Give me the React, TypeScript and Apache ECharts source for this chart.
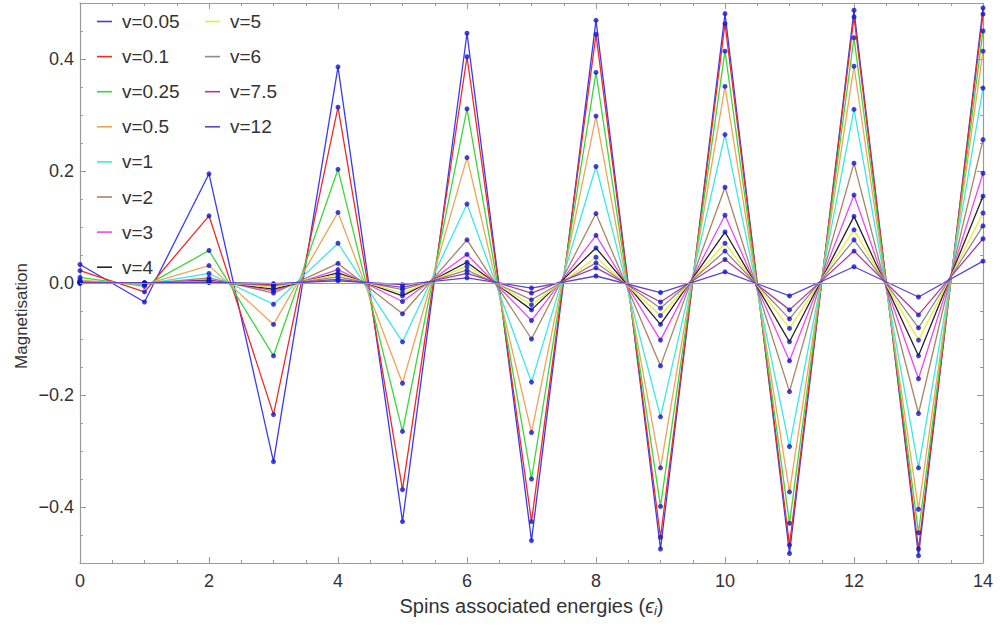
import React, { useEffect, useRef } from "react";
import * as echarts from "echarts";

// Spins associated energies (x values)
const energies = [0, 1, 2, 3, 4, 5, 6, 7, 8, 9, 10, 11, 12, 13, 14];

const seriesNames = ["v=0.05", "v=0.1", "v=0.25", "v=0.5", "v=1", "v=2", "v=3", "v=4", "v=5", "v=6", "v=7.5", "v=12"];
const seriesColors = ["#3a3aee", "#ee2a2a", "#3ad83a", "#f0a455", "#3ae8ea", "#a88462", "#ee48ee", "#222222", "#ecec38", "#8c8c8c", "#b03c98", "#5a46c8"];

const mV005 = [0.033, -0.034, 0.195, -0.319, 0.386, -0.426, 0.446, -0.460, 0.469, -0.475, 0.481, -0.483, 0.487, -0.487, 0.491];
const mV01 = [0.022, -0.016, 0.120, -0.235, 0.314, -0.369, 0.404, -0.426, 0.444, -0.454, 0.463, -0.468, 0.475, -0.475, 0.480];
const mV025 = [0.010, -0.006, 0.058, -0.130, 0.203, -0.265, 0.311, -0.350, 0.376, -0.399, 0.414, -0.429, 0.438, -0.446, 0.450];
const mV05 = [0.005, -0.003, 0.031, -0.074, 0.126, -0.179, 0.224, -0.267, 0.298, -0.330, 0.351, -0.373, 0.387, -0.404, 0.414];
const mV1 = [0.003, -0.002, 0.017, -0.038, 0.071, -0.105, 0.141, -0.177, 0.208, -0.239, 0.265, -0.292, 0.310, -0.330, 0.348];
const mV2 = [0.001, -0.001, 0.009, -0.018, 0.035, -0.055, 0.077, -0.100, 0.124, -0.148, 0.171, -0.194, 0.214, -0.233, 0.256];
const mV3 = [0.001, -0.001, 0.006, -0.014, 0.024, -0.033, 0.051, -0.067, 0.085, -0.102, 0.121, -0.139, 0.157, -0.171, 0.196];
const mV4 = [0.001, 0.0, 0.004, -0.011, 0.018, -0.023, 0.037, -0.048, 0.0625, -0.074, 0.091, -0.105, 0.119, -0.130, 0.155];
const mV5 = [0.0, 0.0, 0.003, -0.008, 0.015, -0.018, 0.030, -0.039, 0.046, -0.058, 0.071, -0.081, 0.095, -0.102, 0.125];
const mV6 = [0.0, 0.0, 0.002, -0.005, 0.011, -0.012, 0.023, -0.030, 0.036, -0.045, 0.057, -0.064, 0.077, -0.080, 0.102];
const mV75 = [0.0, 0.0, 0.001, -0.003, 0.007, -0.008, 0.017, -0.018, 0.027, -0.034, 0.042, -0.048, 0.057, -0.057, 0.079];
const mV12 = [0.0, 0.0, 0.001, -0.001, 0.004, -0.003, 0.009, -0.009, 0.0125, -0.017, 0.020, -0.023, 0.029, -0.025, 0.039];

const magnetisation = [mV005, mV01, mV025, mV05, mV1, mV2, mV3, mV4, mV5, mV6, mV75, mV12];

const yMajorTicks = [-0.4, -0.2, 0, 0.2, 0.4];
const yMinorTicks = [-0.5, -0.45, -0.35, -0.3, -0.25, -0.15, -0.1, -0.05, 0.05, 0.1, 0.15, 0.25, 0.3, 0.35, 0.45, 0.5];

const FONT = "'Liberation Sans', Arial, Helvetica, sans-serif";
const FRAME = "#9a9a9a";
const TEXT = "#333333";

function fmtY(v: number): string {
  const s = Math.abs(v).toFixed(1);
  return v < -1e-9 ? "\u2212" + s : s;
}

export default function App() {
  const ref = useRef<HTMLDivElement>(null);

  useEffect(() => {
    if (!ref.current) return;
    const chart = echarts.init(ref.current, null, { renderer: "svg" });

    const lineSeries = seriesNames.map((name, i) => ({
      type: "line",
      name,
      data: energies.map((x, j) => [x, magnetisation[i][j]]),
      showSymbol: false,
      symbol: "none",
      silent: true,
      z: 2,
      lineStyle: { color: seriesColors[i], width: 1.3 },
      itemStyle: { color: seriesColors[i] },
      ...(i === 0
        ? {
            markLine: {
              silent: true,
              symbol: ["none", "none"],
              label: { show: false },
              lineStyle: { color: FRAME, width: 1.2, type: "solid" },
              data: [{ yAxis: 0 }],
            },
          }
        : {}),
    }));

    const dots: number[][] = [];
    magnetisation.forEach((vals) => {
      energies.forEach((x, j) => dots.push([x, vals[j]]));
    });

    const yBase = {
      type: "value",
      min: -0.5,
      max: 0.5,
      splitLine: { show: false },
    };
    const xBase = {
      type: "value",
      min: 0,
      max: 14,
      interval: 2,
      splitLine: { show: false },
    };

    const legendCommon = {
      orient: "vertical",
      top: 12,
      padding: 0,
      itemGap: 16.1,
      itemWidth: 15,
      itemHeight: 1.6,
      icon: "rect",
      selectedMode: false,
      textStyle: { fontSize: 19, color: TEXT, fontFamily: FONT, padding: [0, 0, 0, 5] },
    };

    chart.setOption({
      animation: false,
      backgroundColor: "#ffffff",
      textStyle: { fontFamily: FONT },
      grid: { left: 80, right: 21, top: 3, bottom: 65, containLabel: false },
      legend: [
        { ...legendCommon, left: 97, data: seriesNames.slice(0, 8) },
        { ...legendCommon, left: 205, data: seriesNames.slice(8) },
      ],
      xAxis: [
        {
          ...xBase,
          position: "bottom",
          axisLine: { show: true, onZero: false, lineStyle: { color: FRAME, width: 1.2 } },
          axisTick: { show: true, inside: true, length: 6, lineStyle: { color: FRAME } },
          minorTick: { show: true, splitNumber: 4, length: 3, lineStyle: { color: FRAME } },
          axisLabel: { show: true, color: TEXT, fontSize: 18, fontFamily: FONT, margin: 9 },
          name: "{t|Spins associated energies (}{e|\u03F5}{s|i}{t|)}",
          nameLocation: "middle",
          nameGap: 32,
          nameTextStyle: {
            color: TEXT,
            fontFamily: FONT,
            fontSize: 20,
            rich: {
              t: { fontSize: 20, color: TEXT, fontFamily: FONT },
              e: { fontSize: 20, color: TEXT, fontStyle: "italic", fontFamily: FONT },
              s: { fontSize: 13, color: TEXT, fontStyle: "italic", fontFamily: FONT, padding: [9, 0, 0, 0] },
            },
          },
        },
        {
          ...xBase,
          position: "top",
          axisLine: { show: true, onZero: false, lineStyle: { color: FRAME, width: 1.2 } },
          axisTick: { show: true, inside: true, length: 6, lineStyle: { color: FRAME } },
          minorTick: { show: true, splitNumber: 4, length: 3, lineStyle: { color: FRAME } },
          axisLabel: { show: false },
        },
      ],
      yAxis: [
        {
          ...yBase,
          position: "left",
          axisLine: { show: true, onZero: false, lineStyle: { color: FRAME, width: 1.2 } },
          axisTick: { show: true, inside: true, length: 6, customValues: yMajorTicks, lineStyle: { color: FRAME } },
          axisLabel: {
            show: true,
            customValues: yMajorTicks,
            formatter: (v: number) => fmtY(v),
            color: TEXT,
            fontSize: 18,
            fontFamily: FONT,
            margin: 6,
          },
        },
        {
          ...yBase,
          position: "right",
          axisLine: { show: true, onZero: false, lineStyle: { color: FRAME, width: 1.2 } },
          axisTick: { show: true, inside: true, length: 6, customValues: yMajorTicks, lineStyle: { color: FRAME } },
          axisLabel: { show: false },
        },
        {
          ...yBase,
          position: "left",
          axisLine: { show: false, onZero: false },
          axisTick: { show: true, inside: true, length: 3, customValues: yMinorTicks, lineStyle: { color: FRAME } },
          axisLabel: { show: false },
        },
        {
          ...yBase,
          position: "right",
          axisLine: { show: false, onZero: false },
          axisTick: { show: true, inside: true, length: 3, customValues: yMinorTicks, lineStyle: { color: FRAME } },
          axisLabel: { show: false },
        },
      ],
      graphic: [
        {
          type: "text",
          x: 21,
          y: 316,
          rotation: Math.PI / 2,
          style: {
            text: "Magnetisation",
            fill: TEXT,
            font: `17px ${FONT}`,
            align: "center",
            verticalAlign: "middle",
          },
        },
      ],
      series: [
        ...lineSeries,
        {
          type: "scatter",
          name: "points",
          data: dots,
          symbol: "circle",
          symbolSize: 5,
          silent: true,
          z: 4,
          itemStyle: { color: "#1515c8" },
        },
      ],
    });

    return () => chart.dispose();
  }, []);

  return (
    <div
      ref={ref}
      style={{ position: "fixed", left: 0, top: 0, width: 1004, height: 628, background: "#fff" }}
    />
  );
}
